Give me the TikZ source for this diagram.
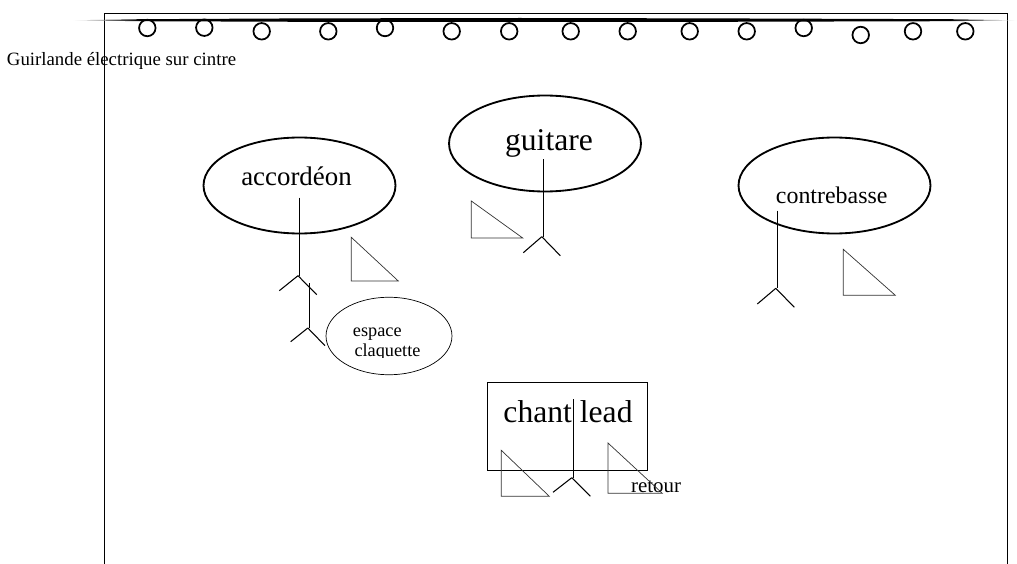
\documentclass[tikz,border=0pt]{standalone}
\usepackage{fontspec}
\setmainfont{Liberation Serif}
\usetikzlibrary{shapes.geometric}
\tikzset{
  bulb/.style={circle,draw,line width=1pt,inner sep=0pt,minimum size=0.33cm},
  zone/.style={ellipse,draw,line width=1.05pt,inner sep=0pt,minimum width=3.84cm,minimum height=1.92cm},
  label/.style={inner sep=0pt,anchor=base},
  stick/.style={line width=0.6pt},
  wedge/.style={draw,line width=0.4pt,black!80}
}
\begin{document}
\begin{tikzpicture}[x=0.02cm,y=-0.02cm]
  \useasboundingbox (0,0) rectangle (1017,564);

  % cadre et cintre
  \draw[line width=0.6pt] (104.3,564) -- (104.3,13.3) -- (1007.3,13.3) -- (1007.3,564);
  \shade[left color=white,right color=black] (72,20.3) -- (140,19.2) -- (140,21.2) -- cycle;
  \shade[left color=black,right color=white] (950,19.2) -- (950,21.2) -- (1017,20.3) -- cycle;
  \fill (140,19.2) -- (300,18.4) -- (520,18) -- (720,18.4) -- (950,19.2) -- (950,21.2) -- (720,21.8) -- (520,22) -- (300,21.8) -- (140,21.2) -- cycle;

  % guirlande
  \node[bulb] at (147.3,28) (b1) {};
  \node[bulb] at (204.3,27.7) (b2) {};
  \node[bulb] at (261.7,31.3) (b3) {};
  \node[bulb] at (328.3,31.3) (b4) {};
  \node[bulb] at (385,28) (b5) {};
  \node[bulb] at (451.7,31.3) (b6) {};
  \node[bulb] at (509.2,31.3) (b7) {};
  \node[bulb] at (570.7,31.3) (b8) {};
  \node[bulb] at (627.7,31.3) (b9) {};
  \node[bulb] at (689.7,31.3) (b10) {};
  \node[bulb] at (746.7,31.3) (b11) {};
  \node[bulb] at (803.7,28) (b12) {};
  \node[bulb] at (860.7,35) (b13) {};
  \node[bulb] at (913,31.3) (b14) {};
  \node[bulb] at (965.3,31.3) (b15) {};
  \node[label,font=\fontsize{10.7}{12}\selectfont] at (121.5,66) (cintre) {Guirlande électrique sur cintre};

  % zones
  \node[zone] at (299.5,185.5) (accordeon) {};
  \node[zone] at (545,143.5) (guitare) {};
  \node[zone] at (834.5,185.5) (contrebasse) {};
  \node[ellipse,draw,line width=0.4pt,inner sep=0pt,minimum width=2.52cm,minimum height=1.55cm] at (389,336) (claquette) {};
  \node[rectangle,draw,line width=0.7pt,inner sep=0pt,minimum width=3.21cm,minimum height=1.75cm] at (567.6,426.5) (chant) {};

  \node[label,font=\fontsize{15.3}{17}\selectfont] at (296.5,186) (taccordeon) {accordéon};
  \node[label,font=\fontsize{18}{20}\selectfont] at (549,151) (tguitare) {guitare};
  \node[label,font=\fontsize{13.6}{15}\selectfont] at (831.7,204) (tcontrebasse) {contrebasse};
  \node[label,font=\fontsize{18}{20}\selectfont] at (568,422) (tchant) {chant lead};
  \node[label,font=\fontsize{11.9}{13}\selectfont] at (656,492) (tretour) {retour};
  \node[label,font=\fontsize{10.4}{12}\selectfont] at (377.3,336) (tespace) {espace};
  \begin{scope}
    \clip (340,340) rectangle (440,357.5);
    \node[label,font=\fontsize{10.4}{12}\selectfont] at (387.5,356.7) (tclaquette) {claquette};
  \end{scope}

  % musiciens
  \coordinate (s1) at (299.5,197.7);
  \coordinate (h1) at (299.5,275.7);
  \coordinate (l1) at (279.3,290.7);
  \coordinate (r1) at (316.7,294.7);
  \coordinate (s2) at (309.3,283);
  \coordinate (h2) at (309.3,328);
  \coordinate (l2) at (290.7,341.7);
  \coordinate (r2) at (325,345.7);
  \coordinate (s3) at (543.3,159.3);
  \coordinate (h3) at (543.3,236.7);
  \coordinate (l3) at (523.3,252.7);
  \coordinate (r3) at (560.3,255.7);
  \coordinate (s4) at (777.3,210.7);
  \coordinate (h4) at (777.3,288.3);
  \coordinate (l4) at (757.3,304);
  \coordinate (r4) at (794.3,307.3);
  \coordinate (s5) at (573.3,399.3);
  \coordinate (h5) at (573.3,477.7);
  \coordinate (l5) at (553,492.3);
  \coordinate (r5) at (590.3,496.3);

  \path[stick,-,draw=none]
  (s1) edge[draw] (h1) (l1) edge[draw] ([xshift=-0.03cm]h1) ([xshift=-0.03cm]h1) edge[draw] (r1)
  (s2) edge[draw] (h2) (l2) edge[draw] ([xshift=-0.03cm]h2) ([xshift=-0.03cm]h2) edge[draw] (r2)
  (s3) edge[draw] (h3) (l3) edge[draw] ([xshift=-0.03cm]h3) ([xshift=-0.03cm]h3) edge[draw] (r3)
  (s4) edge[draw] (h4) (l4) edge[draw] ([xshift=-0.03cm]h4) ([xshift=-0.03cm]h4) edge[draw] (r4)
  (s5) edge[draw] (h5) (l5) edge[draw] ([xshift=-0.03cm]h5) ([xshift=-0.03cm]h5) edge[draw] (r5);

  % retours
  \draw[wedge] (351.3,237.3) -- (351.3,281) -- (398.3,281) -- cycle;
  \draw[wedge] (471.3,201) -- (471.3,238) -- (522.7,238) -- cycle;
  \draw[wedge] (843.3,249.3) -- (843.3,295.3) -- (895.3,295.3) -- cycle;
  \draw[wedge] (501.3,450.3) -- (501.3,496.3) -- (549.3,496.3) -- cycle;
  \draw[wedge] (608,443) -- (608,493.3) -- (662.3,493.3) -- cycle;
\end{tikzpicture}
\end{document}
